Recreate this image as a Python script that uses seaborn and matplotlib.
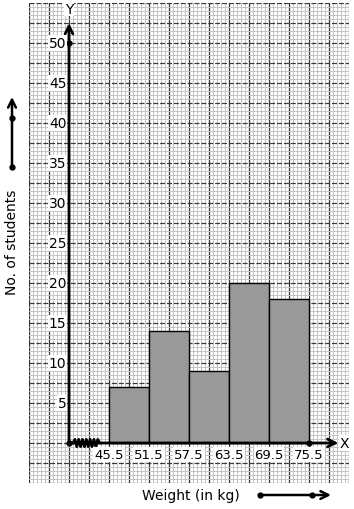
import numpy as np
import matplotlib
matplotlib.use("Agg")
import matplotlib.pyplot as plt
import seaborn as sns

# ---- data ----
bin_edges = [45.5, 51.5, 57.5, 63.5, 69.5, 75.5]
frequencies = [7, 14, 9, 20, 18]
y_tick_values = [5, 10, 15, 20, 25, 30, 35, 40, 45, 50]
x_tick_labels = ["45.5", "51.5", "57.5", "63.5", "69.5", "75.5"]
x_label = "Weight (in kg)"
y_label = "No. of students"

sns.set_theme(style="white")
plt.rcParams['font.family'] = ['DejaVu Sans']
plt.rcParams['text.color'] = 'black'

W, H = 354, 510
fig = plt.figure(figsize=(W / 100, H / 100), dpi=100)
ax = fig.add_axes([29 / W, 26 / H, 320 / W, 480 / H])

origin_x = 39.5
xmin, xmax = 33.5, 81.5
ymin, ymax = -5, 55
ax.set_xlim(xmin, xmax)
ax.set_ylim(ymin, ymax)

# graph-paper grid
ax.set_xticks(np.arange(xmin, xmax + 0.01, 3.0))
ax.set_xticks(np.arange(xmin, xmax + 0.01, 0.6), minor=True)
ax.set_yticks(np.arange(ymin, ymax + 0.01, 2.5))
ax.set_yticks(np.arange(ymin, ymax + 0.01, 0.5), minor=True)
ax.grid(which="minor", color="#c4c4c4", lw=0.7)
ax.grid(which="major", axis="x", color="#333333", lw=0.9)
ax.grid(which="major", axis="y", color="#3a3a3a", lw=0.9, ls=(0, (4, 1.5)))
ax.tick_params(which="both", length=0, labelbottom=False, labelleft=False)
for s in ax.spines.values():
    s.set_visible(False)
ax.set_axisbelow(True)

# histogram
mids = [(a + b) / 2 for a, b in zip(bin_edges[:-1], bin_edges[1:])]
sns.histplot(x=mids, weights=frequencies, bins=bin_edges, ax=ax,
             color="#999999", edgecolor="black", linewidth=1.0, alpha=1.0,
             zorder=3)
ax.set_xlabel("")
ax.set_ylabel("")
ax.set_xlim(xmin, xmax)
ax.set_ylim(ymin, ymax)

# axes with arrows
ax.annotate("", xy=(origin_x, 52.5), xytext=(origin_x, 0),
            arrowprops=dict(arrowstyle="->", lw=2, color="black",
                            shrinkA=0, shrinkB=0, mutation_scale=14), zorder=5)
ax.annotate("", xy=(79.9, 0), xytext=(origin_x, 0),
            arrowprops=dict(arrowstyle="->", lw=2, color="black",
                            shrinkA=0, shrinkB=0, mutation_scale=14), zorder=5)
ax.plot([origin_x, origin_x, bin_edges[-1]], [0, 50, 0], "o", color="black",
        ms=3.5, zorder=6)

# zigzag kink
zx = np.linspace(40.1, 44.1, 15)
zy = np.array([0 if i in (0, 14) else (0.45 if i % 2 else -0.45) for i in range(15)])
ax.plot(zx, zy, color="black", lw=2, zorder=6)

bbox = dict(facecolor="white", edgecolor="none", pad=0.6)
ax.text(origin_x, 54.3, "Y", ha="center", va="center", fontsize=10, bbox=bbox, zorder=7)
ax.text(80.8, 0, "X", ha="center", va="center", fontsize=10, bbox=bbox, zorder=7)

for v in y_tick_values:
    ax.text(origin_x - 0.4, v, str(v), ha="right", va="center", fontsize=10,
            bbox=bbox, zorder=7)
for e, lab in zip(bin_edges, x_tick_labels):
    ax.text(e, -0.6, lab, ha="center", va="top", fontsize=9.5, bbox=bbox, zorder=7)

# outer labels and decorative arrows
fig.text(12 / W, 268 / H, y_label, rotation=90, ha="center", va="center", fontsize=10)
fig.text(191 / W, 14 / H, x_label, ha="center", va="center", fontsize=10)

ap = dict(arrowstyle="->", lw=1.8, color="black", shrinkA=0, shrinkB=0, mutation_scale=14)
ax.annotate("", xy=(12, 412), xytext=(12, 342), xycoords="figure pixels",
            textcoords="figure pixels", arrowprops=ap, annotation_clip=False)
ax.annotate("", xy=(331, 14), xytext=(260, 14), xycoords="figure pixels",
            textcoords="figure pixels", arrowprops=ap, annotation_clip=False)
for (px, py) in [(12, 342), (12, 391), (260, 14), (312, 14)]:
    fig.add_artist(plt.Line2D([px / W], [py / H], marker="o", ms=3.5,
                              color="black", transform=fig.transFigure))

fig.savefig("out.png", dpi=100)
